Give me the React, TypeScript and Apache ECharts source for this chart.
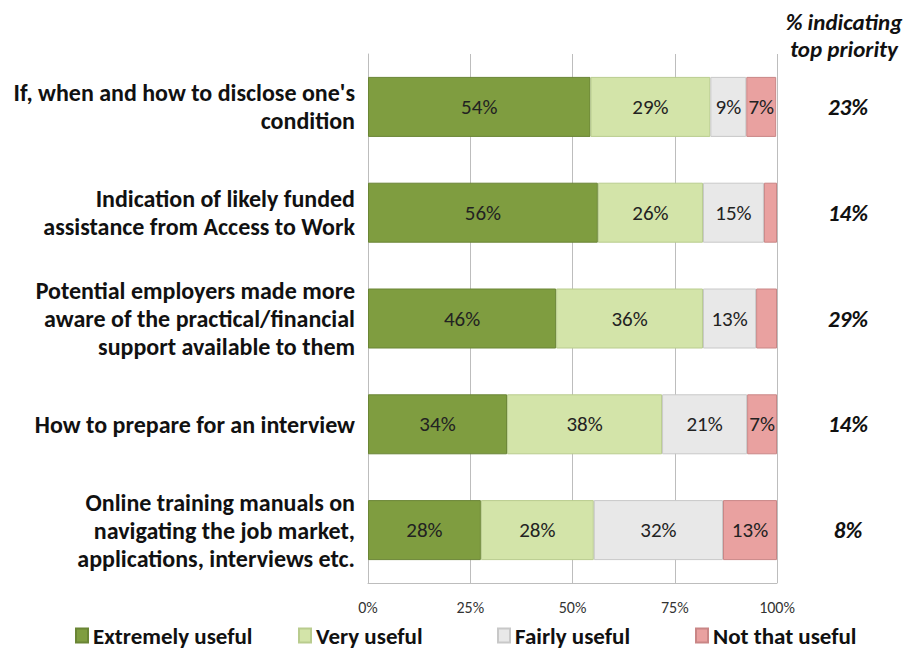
import React, { useEffect, useRef } from "react";
import * as echarts from "echarts";

const categories = [
  "If, when and how to disclose one's\ncondition",
  "Indication of likely funded\nassistance from Access to Work",
  "Potential employers made more\naware of the practical/financial\nsupport available to them",
  "How to prepare for an interview",
  "Online training manuals on\nnavigating the job market,\napplications, interviews etc.",
];
const topPriority = ["23%", "14%", "29%", "14%", "8%"];
const extremelyUseful = [54.4, 56.2, 46.0, 34.0, 27.6];
const veryUseful = [29.3, 25.7, 35.9, 37.9, 27.6];
const fairlyUseful = [8.8, 14.9, 13.0, 20.8, 31.6];
const notThatUseful = [7.3, 3.2, 5.1, 7.3, 13.2];
const seriesNames = ["Extremely useful", "Very useful", "Fairly useful", "Not that useful"];
const tickValues = [0, 25, 50, 75, 100];

const colors = ["#7f9d40", "#d3e4a9", "#e8e8e8", "#e9a1a0"];
const borders = ["#6a8535", "#b9cc8e", "#c8c8c8", "#c98686"];
const legendLeft = [75, 298, 497, 695];
const font = "Carlito, Calibri, 'Open Sans', sans-serif";

export default function App() {
  const ref = useRef<HTMLDivElement>(null);
  useEffect(() => {
    if (!ref.current) return;
    const chart = echarts.init(ref.current, null, { renderer: "svg" });
    const allData = [extremelyUseful, veryUseful, fairlyUseful, notThatUseful];
    chart.setOption({
      animation: false,
      backgroundColor: "#ffffff",
      textStyle: { fontFamily: font },
      grid: {
        left: 368,
        right: 132,
        top: 54,
        bottom: 67,
        show: false,
      },
      legend: seriesNames.map((name, i) => ({
        top: 624,
        left: legendLeft[i],
        padding: 0,
        itemWidth: 12,
        itemHeight: 14,
        icon: "rect",
        data: [name],
        textStyle: { fontSize: 23, fontWeight: "bold", color: "#111", fontFamily: font },
      })),
      xAxis: {
        type: "value",
        min: 0,
        max: 100,
        interval: 25,
        axisLine: { show: true, lineStyle: { color: "#bdbdbd", width: 1 } },
        axisTick: { show: false },
        splitLine: { show: true, lineStyle: { color: "#bdbdbd", width: 1 } },
        axisLabel: {
          formatter: (v: number) => (tickValues.includes(v) ? v + "%" : ""),
          fontSize: 16,
          color: "#333",
          margin: 16,
          fontFamily: font,
        },
      },
      yAxis: [
        {
          type: "category",
          inverse: true,
          data: categories,
          axisLine: { show: true, lineStyle: { color: "#bdbdbd" } },
          axisTick: { show: false },
          axisLabel: {
            fontSize: 24,
            fontWeight: "bold",
            color: "#111",
            lineHeight: 28,
            margin: 13,
            align: "right",
            fontFamily: font,
          },
        },
        {
          type: "category",
          inverse: true,
          position: "right",
          data: topPriority,
          axisLine: { show: false },
          axisTick: { show: false },
          axisLabel: {
            fontSize: 23,
            fontWeight: "bold",
            fontStyle: "italic",
            color: "#111",
            align: "center",
            margin: 71,
            fontFamily: font,
          },
        },
      ],
      series: seriesNames.map((name, i) => ({
        name,
        type: "bar",
        stack: "total",
        barWidth: 60,
        itemStyle: { color: colors[i], borderColor: borders[i], borderWidth: 1 },
        label: {
          show: true,
          position: "inside",
          fontSize: 21,
          color: "#222",
          fontFamily: font,
          formatter: (p: any) => (p.value < 6 ? "" : Math.round(p.value) + "%"),
        },
        data: allData[i],
      })),
      graphic: [
        {
          type: "text",
          x: 844,
          y: 8,
          style: {
            text: "% indicating\ntop priority",
            align: "center",
            verticalAlign: "top",
            lineHeight: 27,
            fill: "#111",
            font: "italic bold 23px " + font,
          },
        },
      ],
    });
    return () => chart.dispose();
  }, []);
  return (
    <div
      ref={ref}
      style={{ position: "fixed", left: 0, top: 0, width: 909, height: 650 }}
    />
  );
}
